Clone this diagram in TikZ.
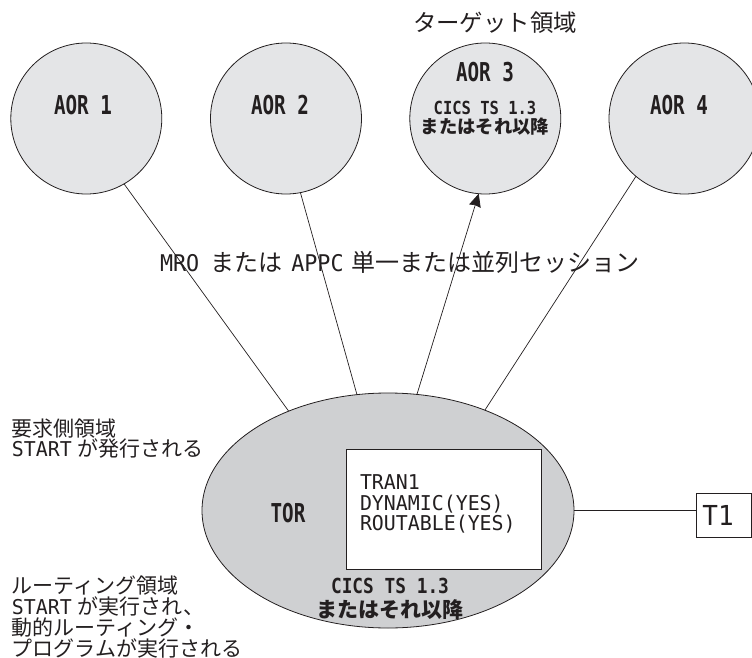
\documentclass[tikz,border=0pt]{standalone}
\usepackage{fontspec}
\usetikzlibrary{shapes.geometric,arrows.meta}
\newfontfamily\jpfont{Noto Sans CJK JP}
\newfontfamily\lat[FakeStretch=0.945]{DejaVu Sans Mono}
\newfontfamily\latw[FakeStretch=0.975]{DejaVu Sans Mono}
\newfontfamily\latbig[FakeStretch=0.74]{DejaVu Sans Mono}
\newfontfamily\latmid[FakeStretch=0.86]{DejaVu Sans Mono}
\newcommand{\J}[1]{{\fontsize{21}{20.8}\selectfont\jpfont #1}}
\newcommand{\JL}[1]{{\fontsize{24}{24}\selectfont\jpfont #1}}
\definecolor{ink}{HTML}{231F20}
\definecolor{aorfill}{HTML}{E4E5E7}
\definecolor{torfill}{HTML}{CFD0D2}
\tikzset{
  aorcircle/.style={circle,draw=ink,fill=aorfill,line width=0.8pt,minimum size=151pt,inner sep=0pt,outer sep=0pt},
  torellipse/.style={ellipse,draw=ink,fill=torfill,line width=0.8pt,minimum width=372pt,minimum height=235pt,inner sep=0pt,outer sep=0pt},
  whitebox/.style={rectangle,draw=ink,fill=white,line width=0.8pt,minimum width=195pt,minimum height=120pt,inner sep=0pt,outer sep=0pt},
  termbox/.style={rectangle,draw=ink,fill=white,line width=0.8pt,minimum width=55pt,minimum height=44pt,inner sep=0pt,outer sep=0pt},
  link/.style={draw=ink,line width=0.7pt},
  plain/.style={text=ink,inner sep=0pt,outer sep=0pt,align=left,font=\fontsize{20.4}{20.8}\selectfont\latw},
  biglabel/.style={text=ink,inner sep=0pt,outer sep=0pt,font=\fontsize{26}{26}\selectfont\latbig\bfseries},
  smallbold/.style={text=ink,inner sep=0pt,outer sep=0pt,font=\fontsize{18}{18}\selectfont\latmid\bfseries},
}
\begin{document}
\begin{tikzpicture}[x=1pt,y=-1pt]
\useasboundingbox (0,0) rectangle (752,658);
\clip (0,0) rectangle (752,658);
\node[aorcircle] (aor1) at (86.3,118.5) {};
\node[aorcircle] (aor2) at (286,118.5) {};
\node[aorcircle] (aor3) at (485.3,118.5) {};
\node[aorcircle] (aor4) at (684.5,118.5) {};
\node[torellipse] (tor) at (388,510.5) {};
\node[whitebox] (tran) at (443.5,509.5) {};
\node[termbox] (t1) at (723.5,515) {};
\draw[link] (aor1.-60) -- (tor.135);
\draw[link] (aor2.-79.4) -- (tor.105.9);
\draw[link,-{Stealth[length=13pt,width=12pt,inset=1pt]}] (tor.76.4) -- (aor3.-95);
\draw[link] (aor4.-130.5) -- (tor.46.6);
\draw[link] (tor.east) -- (t1.west |- tor.east);
\node[biglabel] (l1) at (83,105) {AOR 1};
\node[biglabel] (l2) at (280,105) {AOR 2};
\node[biglabel] (l3) at (485,72) {AOR 3};
\node[biglabel] (l4) at (679,105) {AOR 4};
\node[smallbold] (c3a) at (485,108) {CICS TS 1.3};
\node[smallbold,font=\fontsize{18.3}{18.3}\selectfont\jpfont\bfseries] (c3b) at (485,127) {またはそれ以降};
\node[biglabel] (ltor) at (288,513) {TOR};
\node[smallbold,font=\fontsize{20.7}{20.7}\selectfont\latmid\bfseries] (ca) at (390,586) {CICS TS 1.3};
\node[smallbold,font=\fontsize{21}{21}\selectfont\jpfont\bfseries] (cb) at (390,610) {またはそれ以降};
\node[plain,font=\fontsize{27.5}{27.5}\selectfont\lat] (lt1) at (718,515) {T1};
\node[plain,anchor=west] (target) at (413,23) {{\fontsize{23.4}{23.4}\selectfont\jpfont ターゲット領域}};
\node[plain,anchor=west,font=\fontsize{23}{23}\selectfont\lat] (mro) at (160,262) {MRO\hspace{11pt}\JL{または}\hspace{9pt}APPC\hspace{8pt}\JL{単一または並列セッション}};
\node[plain,anchor=west] (req) at (12,438.5) {\J{要求側領域}\\START\hspace{6pt}\J{が発行される}};
\node[plain,anchor=west] (rt) at (12,617) {\J{ルーティング領域}\\START\hspace{6pt}\J{が実行され、}\\\J{動的ルーティング・}\\\J{プログラムが実行される}};
\node[plain,anchor=west] (tr) at (360,504) {TRAN1\\DYNAMIC(YES)\\ROUTABLE(YES)};
\end{tikzpicture}
\end{document}
